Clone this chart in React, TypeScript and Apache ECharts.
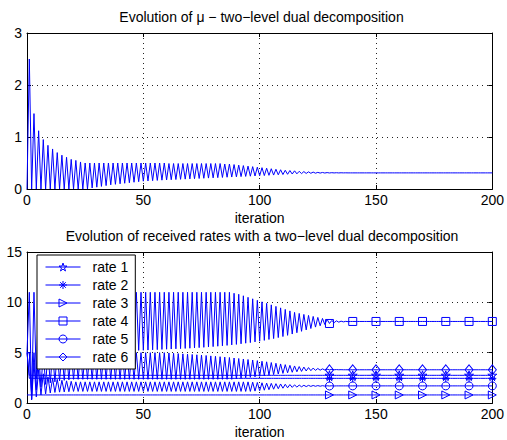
import React, { useEffect, useRef } from 'react';
import * as echarts from 'echarts';

const FONT = '"Liberation Sans", Arial, Helvetica, sans-serif';
const BLUE = '#0000ff';
const ITER_MAX = 200;
const MARKER_ITERS = [130, 140, 150, 160, 170, 180, 190, 200];

const TITLE_TOP = 'Evolution of \u03bc \u2212 two\u2212level dual decomposition';
const TITLE_BOTTOM = 'Evolution of received rates with a two\u2212level dual decomposition';
const X_NAME = 'iteration';
const RATE_NAMES = ['rate 1', 'rate 2', 'rate 3', 'rate 4', 'rate 5', 'rate 6'];

// mu: values at odd iterations (1,3,5,...) and even iterations (0,2,4,...)
const muOdd = [
  2.5, 1.45, 1.12, 0.95, 0.84, 0.77, 0.7, 0.65, 0.61, 0.57, 0.55, 0.52, 0.5, 0.5, 0.5,
  0.5, 0.5, 0.5, 0.5, 0.5, 0.5, 0.5, 0.5, 0.5, 0.5, 0.5, 0.5, 0.5, 0.5, 0.5,
  0.49, 0.49, 0.49, 0.49, 0.49, 0.49, 0.49, 0.49, 0.49, 0.49, 0.49, 0.49,
  0.48, 0.48, 0.47, 0.46, 0.45, 0.44, 0.43, 0.42, 0.41, 0.4, 0.39, 0.38, 0.37, 0.36,
  0.355, 0.35, 0.34, 0.335, 0.33, 0.325, 0.32, 0.318, 0.316, 0.314, 0.313, 0.312, 0.311, 0.31,
];
const muEven = [
  0, 0, 0, 0, 0, 0, 0, 0, 0, 0, 0, 0, 0, 0,
  0.02, 0.035, 0.05, 0.065, 0.08, 0.09, 0.1, 0.11, 0.12, 0.13, 0.14,
  0.15, 0.155, 0.16, 0.165, 0.17, 0.174, 0.178, 0.182, 0.186, 0.19,
  0.194, 0.198, 0.202, 0.206, 0.21, 0.214, 0.218, 0.222, 0.226, 0.23,
  0.234, 0.238, 0.242, 0.246, 0.25, 0.254, 0.258, 0.263, 0.268, 0.273,
  0.278, 0.283, 0.288, 0.292, 0.296, 0.299, 0.302, 0.304, 0.306, 0.307,
  0.308, 0.309, 0.309, 0.31, 0.31, 0.31,
];
const muSteady = 0.31;

// rate 4 (squares)
const rate4Odd = [
  11, 11, 11, 11, 11, 11, 11, 11, 11, 11, 11, 11, 11, 11, 11, 11, 11, 11, 11, 11, 11, 11,
  11, 11, 11, 11, 11, 11, 11, 11, 11, 11, 11, 11, 11, 11, 11, 11, 11, 11, 11, 11, 11, 11,
  10.9, 10.8, 10.65, 10.5, 10.35, 10.2, 10.05, 9.9, 9.75, 9.6, 9.45, 9.3, 9.15, 9.0,
  8.9, 8.8, 8.7, 8.6, 8.5, 8.4, 8.3, 8.2, 8.16, 8.13, 8.11, 8.1,
];
const rate4Even = [
  5, 0.4, 2.4, 3.4, 4.0, 4.4, 4.6, 4.8, 4.9, 5.0, 5.05, 5.1, 5.1, 5.12, 5.14, 5.15,
  5.16, 5.17, 5.18, 5.19, 5.2, 5.2, 5.21, 5.22, 5.23, 5.24,
  5.26, 5.28, 5.3, 5.32, 5.34, 5.36, 5.38, 5.4, 5.42, 5.44,
  5.47, 5.5, 5.53, 5.56, 5.6, 5.64, 5.68, 5.72, 5.77, 5.82,
  5.88, 5.94, 6.0, 6.07, 6.14, 6.22, 6.31, 6.4, 6.5, 6.6,
  6.72, 6.85, 6.98, 7.12, 7.26, 7.4, 7.54, 7.67, 7.8, 7.9,
  7.98, 8.03, 8.06, 8.08, 8.1,
];
const rate4Steady = 8.1;

// rate 6 (diamonds)
const rate6Odd = [
  5, 5, 5, 5, 5, 5, 5, 5, 5, 5, 5, 5, 5, 5, 5, 5, 5, 5, 5, 5, 5, 5, 5, 5, 5, 5, 5, 5, 5, 5,
  4.97, 4.94, 4.91, 4.88, 4.85, 4.82, 4.79, 4.76, 4.72, 4.68,
  4.64, 4.6, 4.56, 4.52, 4.47, 4.42, 4.37, 4.32, 4.27, 4.21,
  4.15, 4.09, 4.02, 3.95, 3.88, 3.81, 3.74, 3.68, 3.62, 3.57,
  3.52, 3.47, 3.43, 3.39, 3.36, 3.34, 3.32, 3.31, 3.3, 3.3,
];
const rate6Even = [
  5, 0.8, 1.3, 1.6, 1.85, 2.0, 2.1, 2.2, 2.25, 2.3,
  2.35, 2.35, 2.35, 2.35, 2.35, 2.35, 2.35, 2.35, 2.35, 2.35, 2.35, 2.35,
  2.35, 2.35, 2.35, 2.35, 2.35, 2.35, 2.35, 2.35, 2.35, 2.35, 2.35, 2.35,
  2.35, 2.35, 2.35, 2.35, 2.35, 2.35, 2.35, 2.35, 2.35, 2.35, 2.35,
  2.4, 2.45, 2.5, 2.55, 2.6, 2.65, 2.7, 2.76, 2.82, 2.88, 2.94, 3.0, 3.05,
  3.1, 3.14, 3.18, 3.21, 3.24, 3.26, 3.28, 3.29, 3.3, 3.3, 3.3, 3.3, 3.3,
];
const rate6Steady = 3.3;

// rate 5 (circles)
const rate5Odd = [
  5, 4.0, 3.3, 2.9, 2.6, 2.45, 2.35, 2.25, 2.2, 2.15,
  2.1, 2.1, 2.1, 2.1, 2.1, 2.1, 2.1, 2.1, 2.1, 2.1, 2.1, 2.1, 2.1, 2.1, 2.1, 2.1, 2.1, 2.1, 2.1,
  2.1, 2.1, 2.1, 2.1, 2.1, 2.1, 2.1, 2.1, 2.1, 2.1, 2.1, 2.1, 2.1, 2.1, 2.1, 2.1, 2.1, 2.1, 2.1,
  2.07, 2.04, 2.01, 1.98, 1.95, 1.92, 1.89, 1.86, 1.83, 1.8, 1.78,
  1.76, 1.75, 1.74, 1.73, 1.72, 1.71, 1.71, 1.7, 1.7, 1.7, 1.7,
];
const rate5Even = [
  5, 0.3, 0.6, 0.8, 0.9, 1.0, 1.05, 1.08, 1.1, 1.12,
  1.15, 1.15, 1.15, 1.15, 1.15, 1.15, 1.15, 1.15, 1.15, 1.15, 1.15, 1.15, 1.15,
  1.15, 1.15, 1.15, 1.15, 1.15, 1.15, 1.15, 1.15, 1.15, 1.15, 1.15, 1.15, 1.15,
  1.15, 1.15, 1.15, 1.15, 1.15, 1.15, 1.15, 1.15, 1.15, 1.15, 1.15, 1.15, 1.15,
  1.18, 1.22, 1.27, 1.32, 1.37, 1.42, 1.47, 1.51, 1.55, 1.58, 1.61,
  1.63, 1.65, 1.66, 1.67, 1.68, 1.69, 1.69, 1.7, 1.7, 1.7, 1.7,
];
const rate5Steady = 1.7;

// rates 1, 2, 3: flat after the first iteration
const rate1Early = [5];
const rate1Steady = 2.75;
const rate2Early = [5];
const rate2Steady = 2.45;
const rate3Early = [0.8];
const rate3Steady = 0.8;

function buildOscillating(oddVals: number[], evenVals: number[], steady: number): number[] {
  const out: number[] = [];
  for (let i = 0; i <= ITER_MAX; i++) {
    const v = i % 2 === 0 ? evenVals[i / 2] : oddVals[(i - 1) / 2];
    out.push(v === undefined ? steady : v);
  }
  return out;
}
function buildFlat(early: number[], steady: number): number[] {
  const out: number[] = [];
  for (let i = 0; i <= ITER_MAX; i++) out.push(i < early.length ? early[i] : steady);
  return out;
}

const STAR = 'path://M5,0L6.2,3.6L10,3.6L6.9,5.8L8.1,9.5L5,7.2L1.9,9.5L3.1,5.8L0,3.6L3.8,3.6Z';
const ASTERISK = 'path://M5,0L5,10M0,5L10,5M1.5,1.5L8.5,8.5M8.5,1.5L1.5,8.5';
const TRI_RIGHT = 'path://M0,0L10,5L0,10Z';

export default function App() {
  const ref = useRef<HTMLDivElement>(null);
  useEffect(() => {
    const chart = echarts.init(ref.current!, undefined, { renderer: 'svg' });
    const mu = buildOscillating(muOdd, muEven, muSteady);
    const rates = [
      buildFlat(rate1Early, rate1Steady),
      buildFlat(rate2Early, rate2Steady),
      buildFlat(rate3Early, rate3Steady),
      buildOscillating(rate4Odd, rate4Even, rate4Steady),
      buildOscillating(rate5Odd, rate5Even, rate5Steady),
      buildOscillating(rate6Odd, rate6Even, rate6Steady),
    ];
    const symbols: any[] = [STAR, ASTERISK, TRI_RIGHT, 'rect', 'circle', 'diamond'];
    const sizes: any[] = [9, 8, 8, 8, 8, [8, 10]];

    const axisLine = { show: true, onZero: false, lineStyle: { color: '#000', width: 1 } };
    const axisTick = { show: true, inside: true, length: 4, lineStyle: { color: '#000', width: 1 } };
    const splitLine = { show: true, lineStyle: { color: '#222', width: 1, type: [1, 4] as any } };
    const labelStyle = { color: '#000', fontSize: 14, fontFamily: FONT };

    const xBottom = (gridIndex: number) => ({
      gridIndex, type: 'value', min: 0, max: ITER_MAX, interval: 50, position: 'bottom',
      axisLine, axisTick, splitLine,
      axisLabel: { ...labelStyle, margin: 4 },
      name: X_NAME, nameLocation: 'middle', nameGap: 22,
      nameTextStyle: { ...labelStyle },
    });
    const xTop = (gridIndex: number) => ({
      gridIndex, type: 'value', min: 0, max: ITER_MAX, interval: 50, position: 'top',
      axisLine, axisTick, splitLine: { show: false }, axisLabel: { show: false },
    });
    const yLeft = (gridIndex: number, max: number, interval: number) => ({
      gridIndex, type: 'value', min: 0, max, interval, position: 'left',
      axisLine, axisTick, splitLine, axisLabel: { ...labelStyle, margin: 5 },
    });
    const yRight = (gridIndex: number, max: number, interval: number) => ({
      gridIndex, type: 'value', min: 0, max, interval, position: 'right',
      axisLine, axisTick, splitLine: { show: false }, axisLabel: { show: false },
    });

    const option: any = {
      animation: false,
      backgroundColor: '#fff',
      grid: [
        { left: 27, top: 33, width: 469, height: 156, containLabel: false },
        { left: 27, top: 252, width: 469, height: 152, containLabel: false },
      ],
      xAxis: [xBottom(0), xTop(0), xBottom(1), xTop(1)],
      yAxis: [yLeft(0, 3, 1), yRight(0, 3, 1), yLeft(1, 15, 5), yRight(1, 15, 5)],
      legend: {
        orient: 'vertical', left: 37, top: 255,
        itemWidth: 35, itemHeight: 10, itemGap: 4,
        padding: [5, 7, 5, 8],
        backgroundColor: '#fff', borderColor: '#000', borderWidth: 1, borderRadius: 0,
        itemStyle: { color: 'rgba(0,0,0,0)', borderColor: BLUE, borderWidth: 1 },
        lineStyle: { color: BLUE, width: 1 },
        textStyle: { color: '#000', fontSize: 14, fontFamily: FONT, padding: [0, 0, 0, 7] },
        data: RATE_NAMES, selectedMode: false,
      },
      graphic: [
        { type: 'text', x: 261.5, y: 17, silent: true,
          style: { text: TITLE_TOP, fontSize: 14, fontFamily: FONT, fill: '#000', textAlign: 'center', textVerticalAlign: 'middle' } },
        { type: 'text', x: 262, y: 236, silent: true,
          style: { text: TITLE_BOTTOM, fontSize: 14, fontFamily: FONT, fill: '#000', textAlign: 'center', textVerticalAlign: 'middle' } },
      ],
      series: [
        {
          type: 'line', name: 'mu', xAxisIndex: 0, yAxisIndex: 0,
          data: mu.map((v, i) => [i, v]),
          symbol: 'none', lineStyle: { color: BLUE, width: 1 }, silent: true,
        },
        ...RATE_NAMES.map((name, k) => ({
          type: 'line', name, xAxisIndex: 2, yAxisIndex: 2,
          data: rates[k].map((v, i) =>
            MARKER_ITERS.includes(i) ? { value: [i, v] } : { value: [i, v], symbol: 'none' }),
          symbol: symbols[k], symbolSize: sizes[k], showSymbol: true, showAllSymbol: true,
          lineStyle: { color: BLUE, width: 1 },
          itemStyle: { color: 'rgba(0,0,0,0)', borderColor: BLUE, borderWidth: 1 },
          silent: true,
        })),
      ],
    };
    chart.setOption(option);
    return () => chart.dispose();
  }, []);
  return (
    <div
      ref={ref}
      style={{ position: 'fixed', left: 0, top: 0, width: 507, height: 440, background: '#fff' }}
    />
  );
}
